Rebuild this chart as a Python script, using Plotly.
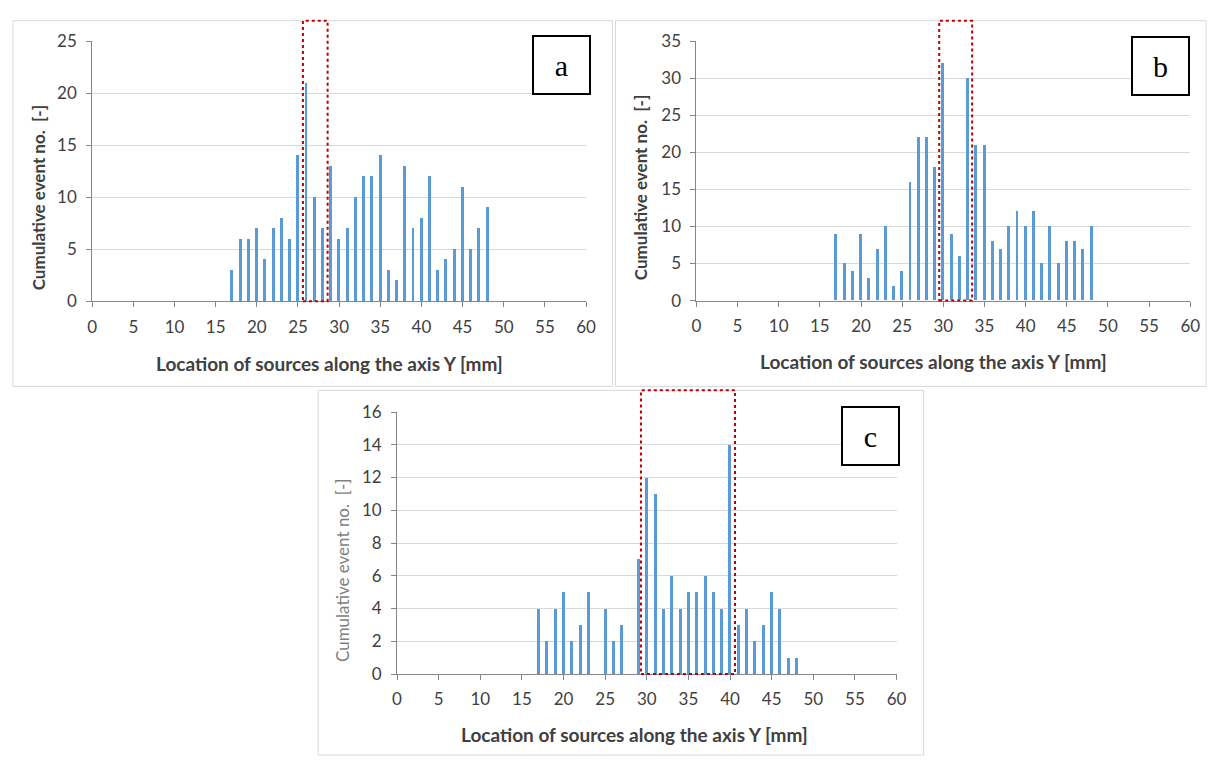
import plotly.graph_objects as go

# ---------------- data ----------------
positions = list(range(17, 49))  # location along Y [mm]
counts_a = [3, 6, 6, 7, 4, 7, 8, 6, 14, 21, 10, 7, 13, 6, 7, 10,
            12, 12, 14, 3, 2, 13, 7, 8, 12, 3, 4, 5, 11, 5, 7, 9]
counts_b = [9, 5, 4, 9, 3, 7, 10, 2, 4, 16, 22, 22, 18, 32, 9, 6,
            30, 21, 21, 8, 7, 10, 12, 10, 12, 5, 10, 5, 8, 8, 7, 10]
counts_c = [4, 2, 4, 5, 2, 3, 5, 0, 4, 2, 3, 0, 7, 12, 11, 4,
            6, 4, 5, 5, 6, 5, 4, 14, 3, 4, 2, 3, 5, 4, 1, 1]
panel_labels = ["a", "b", "c"]
highlight_a = [25.6, 28.6]
highlight_b = [29.5, 33.5]
highlight_c = [29.3, 40.6]
y_max = [25, 35, 16]
y_step = [5, 5, 2]
x_title = "Location of sources along the axis Y [mm]"
y_title = "Cumulative event no.  [-]"

# ---------------- layout helpers ----------------
W, H = 1221, 767
def px(x):
    return x / W
def py(y):
    return 1 - y / H

BAR = "#5B9BD5"
TXT = "#404040"
FONT = "Lato"

# plot areas in pixels (left, right, top, bottom)
areas = [(88.3, 588.3, 31.0, 298.3),
         (700.0, 1200.0, 31.0, 297.7),
         (396.9, 902.6, 412.3, 681.7)]
panels = [(8, 615, 10, 386), (618, 1216, 10, 386), (317, 930, 390, 765)]
boxes = [(563, 55.5), (1169.5, 56.5), (876.5, 437)]
ytitle_pos = [(34, 192), (643.5, 181.5), (341, 575)]
xtitle_pos = [(329, 362), (940, 360), (637, 744)]
rect_top = [10, 10, 390]
highlights = [highlight_a, highlight_b, highlight_c]
series = [counts_a, counts_b, counts_c]

fig = go.Figure()
layout = dict(width=W, height=H, margin=dict(l=0, r=0, t=0, b=0),
              paper_bgcolor="white", plot_bgcolor="white",
              showlegend=False, bargap=0, font=dict(family=FONT, color=TXT))
shapes, annotations = [], []

for i in range(3):
    sfx = "" if i == 0 else str(i + 1)
    l, r, t, b = areas[i]
    fig.add_trace(go.Bar(x=positions, y=series[i], width=0.36,
                         marker=dict(color=BAR, line=dict(width=0)),
                         xaxis="x" + sfx, yaxis="y" + sfx,
                         hovertemplate="%{x} mm: %{y}<extra></extra>"))
    layout["xaxis" + sfx] = dict(
        domain=[px(l), px(r)], anchor="y" + sfx, range=[0, 60],
        tickmode="linear", tick0=0, dtick=5, ticks="outside", ticklen=5,
        tickcolor="#868686", showline=True, linecolor="#868686", linewidth=1,
        showgrid=False, zeroline=False, tickfont=dict(size=17, color=TXT),
        ticklabelstandoff=5, fixedrange=True)
    layout["yaxis" + sfx] = dict(
        domain=[py(b), py(t)], anchor="x" + sfx, range=[0, y_max[i]],
        tickmode="linear", tick0=0, dtick=y_step[i], ticks="outside", ticklen=5,
        tickcolor="#868686", showline=True, linecolor="#868686", linewidth=1,
        showgrid=True, gridcolor="#D9D9D9", gridwidth=1, zeroline=False,
        tickfont=dict(size=17, color=TXT), ticklabelstandoff=6, fixedrange=True)

    # panel frame
    pl, pr, pt, pb = panels[i]
    shapes.append(dict(type="rect", xref="paper", yref="paper",
                       x0=px(pl), x1=px(pr), y0=py(pb), y1=py(pt),
                       line=dict(color="#D9D9D9", width=1), layer="below"))
    # red dotted highlight
    shapes.append(dict(type="rect", xref="x" + sfx, yref="paper",
                       x0=highlights[i][0], x1=highlights[i][1],
                       y0=py(b), y1=py(rect_top[i]),
                       line=dict(color="#C00000", width=2, dash="dot"),
                       layer="above"))
    # panel letter box
    bx, by = boxes[i]
    annotations.append(dict(xref="paper", yref="paper", x=px(bx), y=py(by),
                            xanchor="center", yanchor="middle", showarrow=False,
                            text=panel_labels[i], width=55, height=56,
                            borderwidth=2, bordercolor="black", borderpad=0,
                            bgcolor="white",
                            font=dict(family="Liberation Serif", size=30,
                                      color="black")))
    # axis titles
    tx, ty = xtitle_pos[i]
    annotations.append(dict(xref="paper", yref="paper", x=px(tx), y=py(ty),
                            xanchor="center", yanchor="middle", showarrow=False,
                            text="<b>" + x_title + "</b>",
                            font=dict(family=FONT, size=19, color=TXT)))
    yx, yy = ytitle_pos[i]
    ycol = TXT if i < 2 else "#7F7F7F"
    ytext = "<b>" + y_title + "</b>" if i < 2 else y_title
    annotations.append(dict(xref="paper", yref="paper", x=px(yx), y=py(yy),
                            xanchor="center", yanchor="middle", showarrow=False,
                            textangle=-90, text=ytext,
                            font=dict(family=FONT, size=17, color=ycol)))

layout["shapes"] = shapes
layout["annotations"] = annotations
fig.update_layout(**layout)
fig.write_html("out.html", config={"displayModeBar": False},
               post_script="document.body.style.margin='0';"
                           "document.body.style.overflow='hidden';")
